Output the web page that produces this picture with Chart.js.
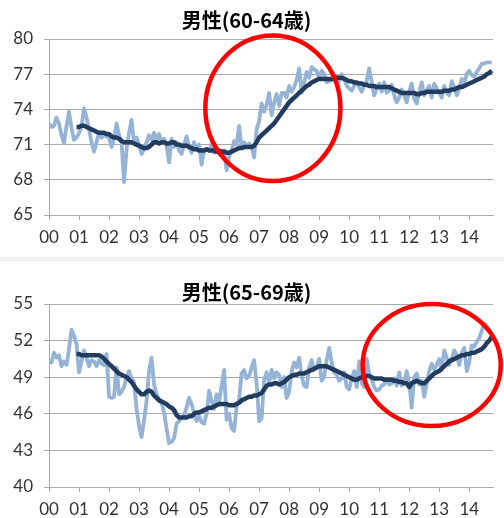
<!DOCTYPE html>
<html>
<head>
<meta charset="utf-8">
<script src="https://cdn.jsdelivr.net/npm/chart.js@4.4.0/dist/chart.umd.min.js"></script>
<style>
  body { margin: 0; background: #fff; }
  .panel { position: absolute; left: 0; }
  #sep { position: absolute; left: 0; top: 257px; width: 504px; height: 4px; background: #f0f0f0; }
</style>
</head>
<body>
<div class="panel" style="top:0px"><canvas id="chart6064" width="504" height="257"></canvas></div>
<div id="sep"></div>
<div class="panel" style="top:258px"><canvas id="chart6569" width="504" height="260"></canvas></div>
<script>
// monthly, Jan 2000 .. Oct 2014
const yearLabels = ['00','01','02','03','04','05','06','07','08','09','10','11','12','13','14'];
const trendStart = 11; // 12-month average begins Dec 2000

const raw6064 = [
  72.8, 72.5, 72.6, 73.3, 72.8, 71.8, 71.1, 72.6, 73.8, 72.4, 71.4, 71.6,
  72.0, 72.5, 74.1, 73.3, 72.3, 71.2, 70.4, 71.2, 72.0, 71.6, 71.8, 71.7,
  71.6, 70.8, 71.5, 72.8, 71.8, 71.2, 67.8, 70.6, 72.0, 73.1, 71.1, 71.6,
  71.0, 70.2, 70.6, 71.2, 71.8, 71.4, 72.0, 71.4, 71.9, 71.3, 71.5, 70.9,
  69.5, 71.5, 70.8, 71.2, 70.5, 70.2, 71.0, 71.7, 70.8, 70.3, 71.2, 70.6,
  71.0, 69.3, 70.5, 70.6, 70.5, 71.0, 70.3, 70.7, 70.2, 70.4, 70.5, 68.8,
  70.0, 70.5, 71.3, 71.0, 72.6, 70.7, 71.2, 70.9, 71.1, 70.8, 69.9, 72.3,
  73.0, 74.5, 73.8, 74.4, 75.4, 73.5, 74.6, 75.3, 74.3, 75.4, 75.4, 75.0,
  76.0, 75.5, 75.9, 76.5, 77.5, 75.4, 76.3, 77.2, 76.7, 77.6, 77.4, 77.3,
  76.6, 77.3, 77.0, 76.3, 76.4, 76.5, 76.9, 76.8, 76.4, 77.0, 76.6, 76.0,
  75.8, 75.6, 76.0, 76.3, 75.9, 75.5, 76.0, 76.4, 77.5, 76.3, 75.2, 75.8,
  76.2, 75.5, 76.3, 75.4, 75.6, 76.1, 75.2, 74.6, 75.0, 75.7, 75.2, 74.6,
  75.5, 76.2, 74.9, 74.5, 75.5, 76.3, 75.2, 75.6, 76.0, 75.0, 76.2, 75.8,
  75.4, 75.0, 76.0, 75.4, 75.2, 76.4, 75.9, 75.2, 75.8, 76.6, 76.2, 77.0,
  77.3, 76.9, 76.8, 77.2, 77.5, 77.9, 77.9, 78.0, 78.0, 78.0
];
const trend6064 = [
                                                                      72.5,
  72.5, 72.6, 72.6, 72.5, 72.4, 72.3, 72.2, 72.1, 72.0, 72.0, 72.0, 71.9,
  71.9, 71.7, 71.6, 71.6, 71.5, 71.3, 71.2, 71.2, 71.2, 71.2, 71.1, 71.0,
  70.9, 70.8, 70.7, 70.7, 70.8, 71.0, 71.2, 71.2, 71.1, 71.2, 71.2, 71.1,
  71.1, 71.2, 71.2, 71.0, 71.0, 70.9, 70.9, 70.9, 70.8, 70.7, 70.6, 70.6,
  70.5, 70.5, 70.5, 70.6, 70.5, 70.5, 70.5, 70.4, 70.5, 70.4, 70.4, 70.3,
  70.3, 70.4, 70.5, 70.6, 70.7, 70.7, 70.8, 70.8, 70.8, 70.8, 70.9, 71.2,
  71.6, 71.8, 72.0, 72.2, 72.4, 72.6, 72.8, 73.1, 73.4, 73.7, 74.0, 74.3,
  74.6, 74.8, 75.0, 75.2, 75.4, 75.6, 75.8, 76.0, 76.1, 76.3, 76.4, 76.5,
  76.6, 76.6, 76.6, 76.6, 76.6, 76.6, 76.6, 76.7, 76.7, 76.7, 76.6, 76.5,
  76.4, 76.4, 76.3, 76.3, 76.2, 76.2, 76.1, 76.1, 76.0, 76.0, 76.0, 75.9,
  75.9, 75.9, 75.9, 75.9, 75.9, 75.8, 75.7, 75.6, 75.5, 75.4, 75.4, 75.4,
  75.4, 75.4, 75.4, 75.3, 75.3, 75.4, 75.4, 75.5, 75.5, 75.5, 75.5, 75.5,
  75.5, 75.5, 75.6, 75.6, 75.6, 75.7, 75.7, 75.8, 75.9, 75.9, 76.0, 76.1,
  76.2, 76.3, 76.4, 76.5, 76.6, 76.7, 76.8, 77.0, 77.1, 77.3
];

const raw6569 = [
  50.3, 50.2, 51.0, 50.6, 50.8, 49.9, 50.3, 50.0, 51.3, 52.9, 52.4, 51.7,
  49.4, 50.3, 51.2, 50.6, 49.9, 50.4, 50.3, 49.9, 50.4, 50.1, 50.0, 50.9,
  47.4, 47.3, 47.4, 49.8, 47.6, 47.8, 48.2, 49.0, 49.5, 48.9, 48.6, 46.4,
  45.0, 44.1, 45.5, 47.0, 49.5, 50.6, 48.4, 47.6, 47.2, 46.9, 46.1, 44.8,
  43.6, 43.7, 44.0, 45.2, 45.4, 45.7, 45.9, 46.5, 47.3, 46.8, 46.0, 45.4,
  45.8, 45.3, 45.2, 46.0, 47.9, 47.0, 46.4, 47.6, 47.0, 48.3, 49.6, 45.5,
  46.0, 44.8, 44.6, 46.6, 47.2, 49.3, 49.6, 48.9, 49.1, 49.8, 50.4, 48.5,
  45.4, 45.6, 48.8, 49.4, 48.5, 49.6, 48.9, 49.4, 49.2, 48.2, 49.0, 47.3,
  47.8, 49.5, 50.2, 49.8, 50.6, 49.1, 48.3, 48.2, 49.8, 50.4, 49.6, 49.8,
  50.5, 48.7, 49.0, 50.4, 51.4, 50.2, 49.4, 49.2, 48.7, 48.9, 49.4, 48.2,
  48.0, 48.9, 49.5, 48.2, 50.3, 48.5, 48.2, 50.5, 49.3, 48.8, 48.2, 47.9,
  48.0, 48.3, 48.4, 48.8, 48.4, 48.5, 48.9, 48.3, 49.4, 48.3, 48.6, 49.5,
  48.6, 46.5, 49.0, 49.3, 48.4, 48.7, 47.4, 48.5, 49.5, 50.1, 49.6, 50.0,
  50.5, 49.6, 51.2, 50.6, 50.0, 50.5, 51.2, 50.8, 50.0, 51.0, 51.4, 49.5,
  50.2, 51.6, 51.5, 51.9, 52.2, 52.8, 53.4, 53.2, 52.9, 52.5
];
const trend6569 = [
                                                                      50.9,
  50.9, 50.8, 50.8, 50.8, 50.8, 50.8, 50.8, 50.8, 50.8, 50.7, 50.5, 50.3,
  50.1, 49.9, 49.7, 49.5, 49.3, 49.2, 49.1, 49.0, 48.8, 48.6, 48.3, 48.0,
  47.8, 47.6, 47.6, 47.8, 47.9, 47.8, 47.5, 47.3, 47.1, 47.0, 46.9, 46.8,
  46.6, 46.5, 46.3, 45.9, 45.7, 45.7, 45.7, 45.7, 45.8, 45.8, 46.0, 46.1,
  46.1, 46.2, 46.3, 46.4, 46.5, 46.5, 46.6, 46.7, 46.8, 46.8, 46.8, 46.8,
  46.7, 46.7, 46.7, 46.8, 46.9, 47.1, 47.2, 47.3, 47.4, 47.4, 47.5, 47.5,
  47.6, 47.7, 48.0, 48.3, 48.4, 48.4, 48.5, 48.5, 48.4, 48.5, 48.6, 48.8,
  49.0, 49.1, 49.2, 49.2, 49.3, 49.3, 49.3, 49.4, 49.5, 49.6, 49.7, 49.8,
  49.9, 49.9, 49.9, 49.9, 49.8, 49.7, 49.6, 49.5, 49.4, 49.3, 49.2, 49.1,
  49.0, 48.9, 48.8, 48.8, 48.9, 49.0, 49.0, 49.1, 49.1, 49.0, 48.9, 48.9,
  48.9, 48.9, 48.8, 48.8, 48.8, 48.8, 48.7, 48.7, 48.6, 48.6, 48.5, 48.5,
  48.2, 48.5, 48.6, 48.7, 48.6, 48.5, 48.5, 48.7, 48.9, 49.1, 49.3, 49.4,
  49.5, 49.7, 49.9, 50.1, 50.3, 50.4, 50.5, 50.6, 50.7, 50.8, 50.8, 50.9,
  50.9, 51.0, 51.0, 51.1, 51.2, 51.3, 51.5, 51.8, 52.0, 52.3
];

const gridColor = '#a9a9a9';
const tickFont = { family: 'Lato', size: 17 };

// red circle drawn around a region given in data units
const ellipsePlugin = {
  id: 'ellipse',
  afterDraw(chart, args, opts) {
    if (!opts || opts.cx === undefined) return;
    const xs = chart.scales.x, ys = chart.scales.y;
    const cx = xs.getPixelForValue(opts.cx);
    const cy = ys.getPixelForValue(opts.cy);
    const rx = Math.abs(xs.getPixelForValue(opts.cx + opts.rx) - cx);
    const ry = Math.abs(ys.getPixelForValue(opts.cy + opts.ry) - cy);
    const ctx = chart.ctx;
    ctx.save();
    ctx.strokeStyle = '#ff0000';
    ctx.lineWidth = 4.5;
    ctx.beginPath();
    ctx.ellipse(cx, cy, rx, ry, 0, 0, Math.PI * 2);
    ctx.stroke();
    ctx.restore();
  }
};

function makePanel(id, title, raw, trend, yMin, yMax, titlePad, axisH, circle) {
  const canvas = document.getElementById(id);
  new Chart(canvas, {
    type: 'line',
    data: {
      datasets: [
        {
          data: trend.map((v, i) => ({ x: trendStart + i, y: v })),
          borderColor: '#213c5e',
          borderWidth: 4.5,
          pointRadius: 0,
          borderJoinStyle: 'round',
          order: 0
        },
        {
          data: raw.map((v, i) => ({ x: i, y: v })),
          borderColor: '#95b3d7',
          borderWidth: 3.8,
          pointRadius: 0,
          borderJoinStyle: 'round',
          order: 1
        }
      ]
    },
    options: {
      responsive: false,
      animation: false,
      layout: { padding: { top: 0, right: 11, bottom: 0, left: 0 } },
      plugins: {
        legend: { display: false },
        tooltip: { enabled: false },
        title: {
          display: true,
          text: title,
          color: '#000',
          font: { family: 'Noto Sans CJK JP', size: 20, weight: 'bold' },
          padding: titlePad
        },
        ellipse: circle
      },
      scales: {
        x: {
          type: 'linear',
          min: 0,
          max: 177.5,
          // one tick per year label
          afterBuildTicks: s => { s.ticks = yearLabels.map((lab, i) => ({ value: i * 12 })); },
          afterFit: s => { s.height = axisH; },
          ticks: {
            autoSkip: false,
            maxRotation: 0,
            padding: 7,
            color: '#333',
            font: tickFont,
            callback: v => yearLabels[Math.round(v / 12)]
          },
          grid: { drawOnChartArea: false, drawTicks: true, tickLength: 5, color: gridColor },
          border: { color: gridColor }
        },
        y: {
          min: yMin,
          max: yMax,
          afterFit: s => { s.width = 49; },
          ticks: { stepSize: 3, padding: 11, color: '#333', font: tickFont },
          grid: { drawTicks: true, tickLength: 5, color: gridColor },
          border: { color: gridColor }
        }
      }
    },
    plugins: [ellipsePlugin]
  });
}

makePanel('chart6064', '男性(60-64歳)', raw6064, trend6064, 65, 80,
  { top: 8, bottom: 7 }, 42, { cx: 89.5, cy: 74.1, rx: 27, ry: 6.2 });
makePanel('chart6569', '男性(65-69歳)', raw6569, trend6569, 40, 55,
  { top: 22, bottom: 0 }, 31, { cx: 153, cy: 50.0, rx: 27.6, ry: 5.0 });
</script>
</body>
</html>
